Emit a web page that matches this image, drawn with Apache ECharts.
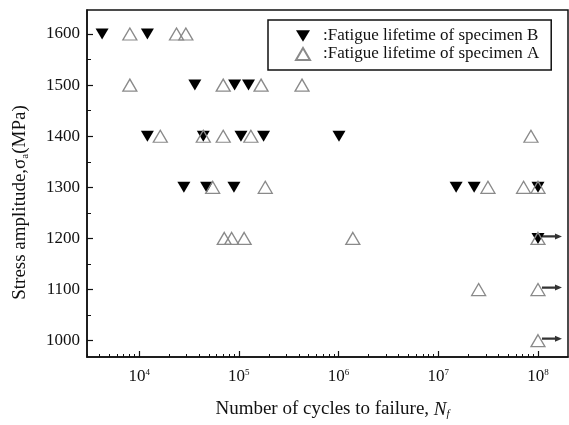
<!DOCTYPE html>
<html>
<head>
<meta charset="utf-8">
<script src="https://cdn.jsdelivr.net/npm/echarts@6/dist/echarts.min.js"></script>
<style>html,body{margin:0;padding:0;background:#fff;}#c{width:569px;height:425px;}</style>
</head>
<body>
<div id="c"></div>
<script>
const stressTicks = [1000, 1100, 1200, 1300, 1400, 1500, 1600];
const stressMinorTicks = [1050, 1150, 1250, 1350, 1450, 1550];
const cycleTicks = [1e4, 1e5, 1e6, 1e7, 1e8];
const cycleMinorTicks = [3e3,4e3,5e3,6e3,7e3,8e3,9e3,2e4,3e4,4e4,5e4,6e4,7e4,8e4,9e4,2e5,3e5,4e5,5e5,6e5,7e5,8e5,9e5,2e6,3e6,4e6,5e6,6e6,7e6,8e6,9e6,2e7,3e7,4e7,5e7,6e7,7e7,8e7,9e7];

const specimenB_cycles = [4250, 12100, 36200, 90700, 125000, 12100, 44000, 105000, 177000, 1010000, 28100, 47500, 89300, 15100000, 22900000, 100000000, 100000000];
const specimenB_stress = [1600, 1600, 1500, 1500, 1500, 1400, 1400, 1400, 1400, 1400, 1300, 1300, 1300, 1300, 1300, 1300, 1200];

const specimenA_cycles = [8070, 23700, 29400, 8070, 69700, 167000, 430000, 16300, 44000, 69700, 132000, 85000000, 54600, 184000, 31500000, 71700000, 100000000, 71400, 84700, 113000, 1390000, 100000000, 25400000, 100000000, 100000000];
const specimenA_stress = [1600, 1600, 1600, 1500, 1500, 1500, 1500, 1400, 1400, 1400, 1400, 1400, 1300, 1300, 1300, 1300, 1300, 1200, 1200, 1200, 1200, 1200, 1100, 1100, 1000];

const runout_cycles = [100000000, 100000000, 100000000];
const runout_stress = [1200, 1100, 1000];

const nameB = ':Fatigue lifetime of specimen B';
const nameA = ':Fatigue lifetime of specimen A';

const FONT = "'Liberation Serif','Times New Roman',serif";
const INK = '#111';

function zip(a, b) { return a.map((v, i) => [v, b[i]]); }

const chart = echarts.init(document.getElementById('c'), null, {renderer: 'canvas'});
chart.setOption({
  animation: false,
  backgroundColor: '#fff',
  textStyle: {fontFamily: FONT, color: INK},
  grid: {left: 87, right: 1, top: 10, bottom: 67, show: true, borderColor: INK, borderWidth: 1.5, backgroundColor: 'transparent'},
  legend: {
    left: 268, top: 20, orient: 'vertical',
    data: [nameB, nameA],
    itemWidth: 14, itemHeight: 12, itemGap: 0,
    padding: [7, 12, 7, 27],
    borderColor: INK, borderWidth: 1.5, backgroundColor: '#fff',
    textStyle: {fontFamily: FONT, fontSize: 17, color: INK, lineHeight: 18, padding: [0, 0, 0, 8]},
    selectedMode: false
  },
  xAxis: [{
    type: 'log', logBase: 10, min: 3000, max: 2e8,
    axisLine: {show: true, lineStyle: {color: INK, width: 1.5}},
    axisTick: {show: true, inside: true, length: 6, lineStyle: {color: INK, width: 1.2}, customValues: cycleTicks},
    axisLabel: {
      customValues: cycleTicks, margin: 11, color: INK,
      formatter: v => '{b|10}{s|' + Math.round(Math.log10(v)) + '}',
      rich: {
        b: {fontFamily: FONT, fontSize: 17, color: INK},
        s: {fontFamily: FONT, fontSize: 9, color: INK, verticalAlign: 'bottom', padding: [0, 0, 8, 0]}
      }
    },
    splitLine: {show: false},
    name: '{t|Number of cycles to failure, }{n|N}{f|f}',
    nameLocation: 'middle', nameGap: 42,
    nameTextStyle: {
      padding: [0, 0, 0, 10],
      rich: {
        t: {fontFamily: FONT, fontSize: 19, color: INK},
        n: {fontFamily: FONT, fontSize: 19, fontStyle: 'italic', color: INK},
        f: {fontFamily: FONT, fontSize: 11, fontStyle: 'italic', color: INK, verticalAlign: 'top', padding: [10, 0, 0, 0]}
      }
    }
  }, {
    type: 'log', logBase: 10, min: 3000, max: 2e8, position: 'bottom', offset: 0,
    axisLine: {show: false},
    axisTick: {show: true, inside: true, length: 3, lineStyle: {color: INK, width: 1}, customValues: cycleMinorTicks},
    axisLabel: {show: false},
    splitLine: {show: false}
  }],
  yAxis: [{
    type: 'value', min: 968, max: 1647,
    axisLine: {show: true, lineStyle: {color: INK, width: 1.5}},
    axisTick: {show: true, inside: true, length: 6, lineStyle: {color: INK, width: 1.2}, customValues: stressTicks},
    axisLabel: {customValues: stressTicks, margin: 7, fontFamily: FONT, fontSize: 17, color: INK, formatter: v => String(v)},
    splitLine: {show: false},
    name: '{t|Stress amplitude,σ}{s|a}{t|(MPa)}',
    nameLocation: 'middle', nameGap: 56, nameRotate: 90,
    nameTextStyle: {
      padding: [0, 38, 0, 0],
      rich: {
        t: {fontFamily: FONT, fontSize: 19, color: INK},
        s: {fontFamily: FONT, fontSize: 11, color: INK, verticalAlign: 'top', padding: [10, 0, 0, 0]}
      }
    }
  }, {
    type: 'value', min: 968, max: 1647, position: 'left', offset: 0,
    axisLine: {show: false},
    axisTick: {show: true, inside: true, length: 4, lineStyle: {color: INK, width: 1}, customValues: stressMinorTicks},
    axisLabel: {show: false},
    splitLine: {show: false}
  }],
  series: [{
    name: nameB, type: 'scatter', xAxisIndex: 0, yAxisIndex: 0,
    symbol: 'path://M0,0L12,0L6,10Z', symbolSize: [13, 11],
    itemStyle: {color: '#000', opacity: 1},
    data: zip(specimenB_cycles, specimenB_stress), z: 3
  }, {
    name: nameA, type: 'scatter', xAxisIndex: 0, yAxisIndex: 0,
    symbol: 'triangle', symbolSize: [14, 12],
    itemStyle: {color: 'rgba(255,255,255,0)', borderColor: '#8a8a8a', borderWidth: 1.3, opacity: 1},
    data: zip(specimenA_cycles, specimenA_stress), z: 4
  }, {
    name: 'runout', type: 'scatter', xAxisIndex: 0, yAxisIndex: 0,
    symbol: 'path://M0,3.5L13,3.5L13,1L20,5L13,9L13,6.5L0,6.5Z', symbolSize: [20, 6], symbolOffset: [14, -2],
    itemStyle: {color: '#000'},
    data: zip(runout_cycles, runout_stress), z: 5
  }]
});
</script>
</body>
</html>
